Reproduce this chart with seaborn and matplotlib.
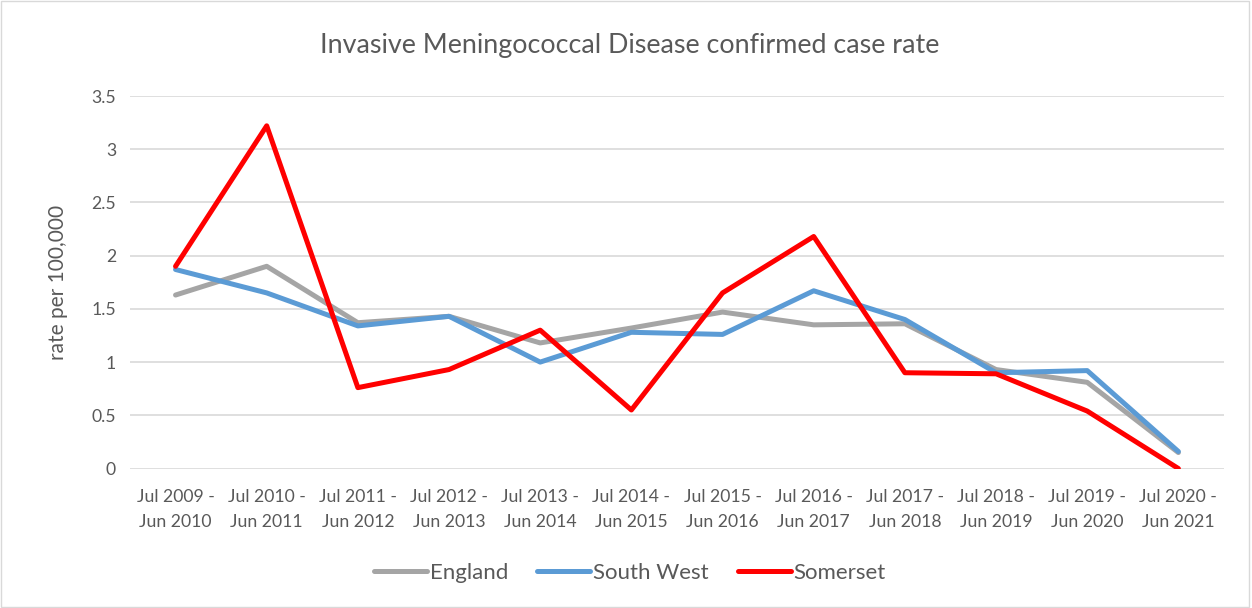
import pandas as pd
import matplotlib
matplotlib.use('Agg')
import matplotlib.pyplot as plt
import seaborn as sns
import numpy as np

# periodes (annee glissante juillet - juin)
periods = ["Jul 2009 -\nJun 2010", "Jul 2010 -\nJun 2011", "Jul 2011 -\nJun 2012",
           "Jul 2012 -\nJun 2013", "Jul 2013 -\nJun 2014", "Jul 2014 -\nJun 2015",
           "Jul 2015 -\nJun 2016", "Jul 2016 -\nJun 2017", "Jul 2017 -\nJun 2018",
           "Jul 2018 -\nJun 2019", "Jul 2019 -\nJun 2020", "Jul 2020 -\nJun 2021"]

england = [1.63, 1.90, 1.37, 1.43, 1.18, 1.32, 1.47, 1.35, 1.36, 0.93, 0.81, 0.15]
south_west = [1.87, 1.65, 1.34, 1.43, 1.00, 1.28, 1.26, 1.67, 1.40, 0.90, 0.92, 0.16]
somerset = [1.90, 3.22, 0.76, 0.93, 1.30, 0.55, 1.65, 2.18, 0.90, 0.89, 0.54, 0.0]

series_names = ["England", "South West", "Somerset"]
palette = {"England": "#A5A5A5", "South West": "#5B9BD5", "Somerset": "#FF0000"}

df = pd.DataFrame({
    "period": periods * 3,
    "rate": england + south_west + somerset,
    "area": [n for n in series_names for _ in periods],
})
df["pos"] = np.tile(np.arange(len(periods)), 3)

sns.set_style("white")
plt.rcParams['font.family'] = ['Lato', 'DejaVu Sans']

fig = plt.figure(figsize=(12.52, 6.08), dpi=100)
ax = fig.add_axes([0.1038, 0.2294, 0.8738, 0.6127])

sns.lineplot(data=df, x="pos", y="rate", hue="area", hue_order=series_names,
             palette=palette, linewidth=3.6, sort=False, ax=ax, legend=True)

ax.set_xlim(-0.5, len(periods) - 0.5)
ax.set_ylim(0, 3.5)
ax.set_yticks(np.arange(0, 3.51, 0.5))
ax.set_yticklabels(["0", "0.5", "1", "1.5", "2", "2.5", "3", "3.5"])
ax.set_xticks(range(len(periods)))
ax.set_xticklabels(periods, linespacing=1.75)
ax.tick_params(axis='both', length=0, labelsize=12.7, colors='#595959')
ax.tick_params(axis='x', pad=14.5)
ax.tick_params(axis='y', pad=10)
ax.yaxis.grid(True, color='#D9D9D9', linewidth=1.2)
ax.set_axisbelow(True)
for s in ax.spines.values():
    s.set_visible(False)

ax.set_xlabel("")
ax.set_ylabel("rate per 100,000", fontsize=15, color='#595959', labelpad=17)
fig.text(0.503, 0.925, "Invasive Meningococcal Disease confirmed case rate",
         ha='center', va='center', fontsize=19.4, color='#595959')

handles, labels = ax.get_legend_handles_labels()
ax.legend(handles, labels, loc='center', bbox_to_anchor=(0.503, 0.0575),
          bbox_transform=fig.transFigure, ncol=3, frameon=False, fontsize=16,
          handlelength=2.4, handletextpad=0.12, columnspacing=1.3,
          labelcolor='#595959')

# cadre autour du graphique
fig.patches.append(plt.Rectangle((0.001, 0.002), 0.997, 0.996, transform=fig.transFigure,
                                 fill=False, edgecolor='#D9D9D9', linewidth=1))

plt.savefig("out.png", dpi=100)
plt.close()
